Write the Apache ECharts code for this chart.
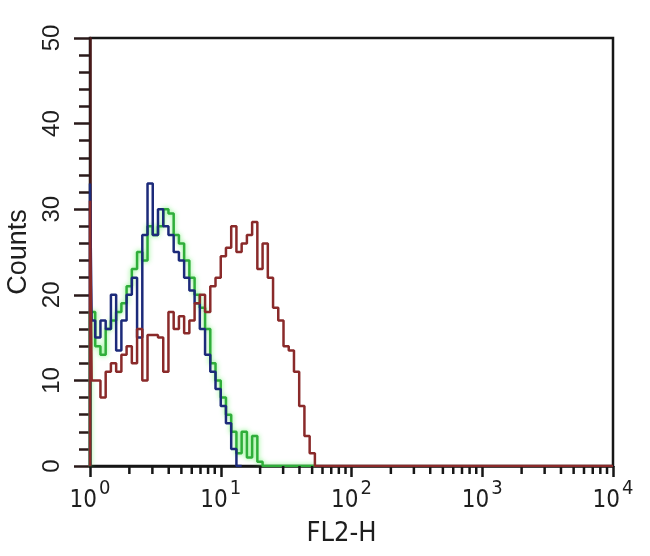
<!DOCTYPE html>
<html>
<head>
<meta charset="utf-8">
<script src="https://cdn.jsdelivr.net/npm/echarts@6/dist/echarts.min.js"></script>
<style>
html,body{margin:0;padding:0;background:#fff;}
#c{width:650px;height:556px;}
</style>
</head>
<body>
<div id="c"></div>
<script>
// FL2-H bin start values (log-spaced channels); first entry is the histogram origin
const fl2Bins = [1, 1, 1.03, 1.096, 1.202, 1.318, 1.445, 1.585, 1.738, 1.905, 2.089, 2.291,
  2.512, 2.754, 3.020, 3.311, 3.631, 3.981, 4.365, 4.786, 5.248, 5.754,
  6.310, 6.918, 7.586, 8.318, 9.120, 10.0, 10.96, 12.02, 13.18, 14.45,
  15.85, 17.38, 19.05, 20.89, 22.91, 25.12, 27.54, 30.20, 33.11, 36.31,
  39.81, 43.65, 47.86, 52.48, 10000];

const blueCounts = [0, 33, 17, 15, 17, 16, 20, 13.5, 17, 20, 22, 15, 27, 33, 27, 30, 28, 27, 25,
  24, 22, 20.5, 19, 16, 13, 11, 9, 7, 5, 2, 0, 0];

const greenCounts = [0, 18, 18, 14, 13, 16, 17, 18, 19, 21, 23, 25, 24, 28, 27, 28, 30, 29.5, 27,
  26, 24, 22, 20, 18.5, 16, 12, 10, 8, 6, 4, 1.5, 4, 1, 3.5, 0.5,
  0, 0, 0, 0, 0, 0, 0, 0, 0, 0, 0];

const redCounts = [0, 31, 10, 10, 8, 11, 12, 11, 13, 14, 12, 16, 10, 15.3, 15.3, 15, 11, 18, 16,
  17.5, 15.5, 17, 19, 20, 18, 21, 22, 24.5, 25.5, 28, 25, 26, 27, 28.5, 23,
  26, 22, 18.5, 17, 14, 13.5, 11, 7, 3.5, 1.5, 0, 0];

const xMinorTicks = [2, 3, 4, 5, 6, 7, 8, 9, 20, 30, 40, 50, 60, 70, 80, 90,
  200, 300, 400, 500, 600, 700, 800, 900, 2000, 3000, 4000, 5000, 6000, 7000, 8000, 9000];

const yTicks = [0, 10, 20, 30, 40, 50];

function pairs(counts) {
  return counts.map((c, i) => [fl2Bins[i], c]);
}

const FONT = '"Liberation Sans", Arial, sans-serif';
const NARROW = '"Liberation Sans Narrow", "Arial Narrow", "DejaVu Sans Condensed", sans-serif';
const INK = '#1e1e1e';
const chart = echarts.init(document.getElementById('c'));
chart.setOption({
  animation: false,
  backgroundColor: '#fff',
  grid: { left: 90, right: 37, top: 38, bottom: 90, containLabel: false, outerBoundsMode: 'none',
    show: true, borderColor: '#161616', borderWidth: 2.5, backgroundColor: 'transparent' },
  xAxis: {
    type: 'log', logBase: 10, min: 1, max: 10000,
    name: 'FL2-H', nameLocation: 'middle', nameGap: 54,
    nameTextStyle: { fontFamily: NARROW, fontSize: 27, color: INK, padding: [0, 20, 0, 0] },
    axisLine: { lineStyle: { color: '#161616', width: 2.5 } },
    axisTick: { show: true, length: 11, lineStyle: { color: '#161616', width: 2.5 } },
    minorTick: { show: false },
    splitLine: { show: false },
    axisLabel: {
      margin: 13,
      formatter: v => '{b|10}{s|' + Math.round(Math.log10(v)) + '}',
      rich: {
        b: { fontFamily: NARROW, fontSize: 24, color: INK, verticalAlign: 'bottom', padding: [10, 0, 0, 0] },
        s: { fontFamily: NARROW, fontSize: 20, color: INK, verticalAlign: 'top', padding: [0, 0, 10, 2] }
      }
    }
  },
  yAxis: {
    type: 'value', min: 0, max: 50, interval: 10,
    name: 'Counts', nameLocation: 'middle', nameGap: 57, nameRotate: 90,
    nameTextStyle: { fontFamily: FONT, fontSize: 27, color: INK },
    axisLine: { show: true, lineStyle: { color: '#4a1a1a', width: 2.5 } },
    axisTick: { show: true, length: 16, lineStyle: { color: '#2a1a1a', width: 2.5 } },
    minorTick: { show: true, splitNumber: 5, length: 11, lineStyle: { color: '#2a1a1a', width: 2.5 } },
    splitLine: { show: false },
    axisLabel: { rotate: 90, margin: 26, fontFamily: FONT, fontSize: 24, color: INK,
      formatter: v => yTicks.indexOf(v) >= 0 ? String(v) : '' }
  },
  series: [
    {
      type: 'custom', silent: true, z: 5,
      data: xMinorTicks.map(v => [v, 0]),
      renderItem: (params, api) => {
        const p = api.coord([api.value(0), 0]);
        return { type: 'line', shape: { x1: p[0], y1: p[1], x2: p[0], y2: p[1] + 8 },
          style: { stroke: '#161616', lineWidth: 2.5 } };
      }
    },
    {
      name: 'green', type: 'line', step: 'end', showSymbol: false, z: 3,
      data: pairs(greenCounts),
      lineStyle: { color: '#2fae3a', width: 2.5, shadowColor: 'rgba(110,240,110,0.9)', shadowBlur: 5 }
    },
    {
      name: 'blue', type: 'line', step: 'end', showSymbol: false, z: 4,
      data: pairs(blueCounts),
      lineStyle: { color: '#1c2a7a', width: 2.5 }
    },
    {
      name: 'red', type: 'line', step: 'end', showSymbol: false, z: 5,
      data: pairs(redCounts),
      lineStyle: { color: '#8a2a2a', width: 2.5 }
    }
  ]
});
</script>
</body>
</html>
